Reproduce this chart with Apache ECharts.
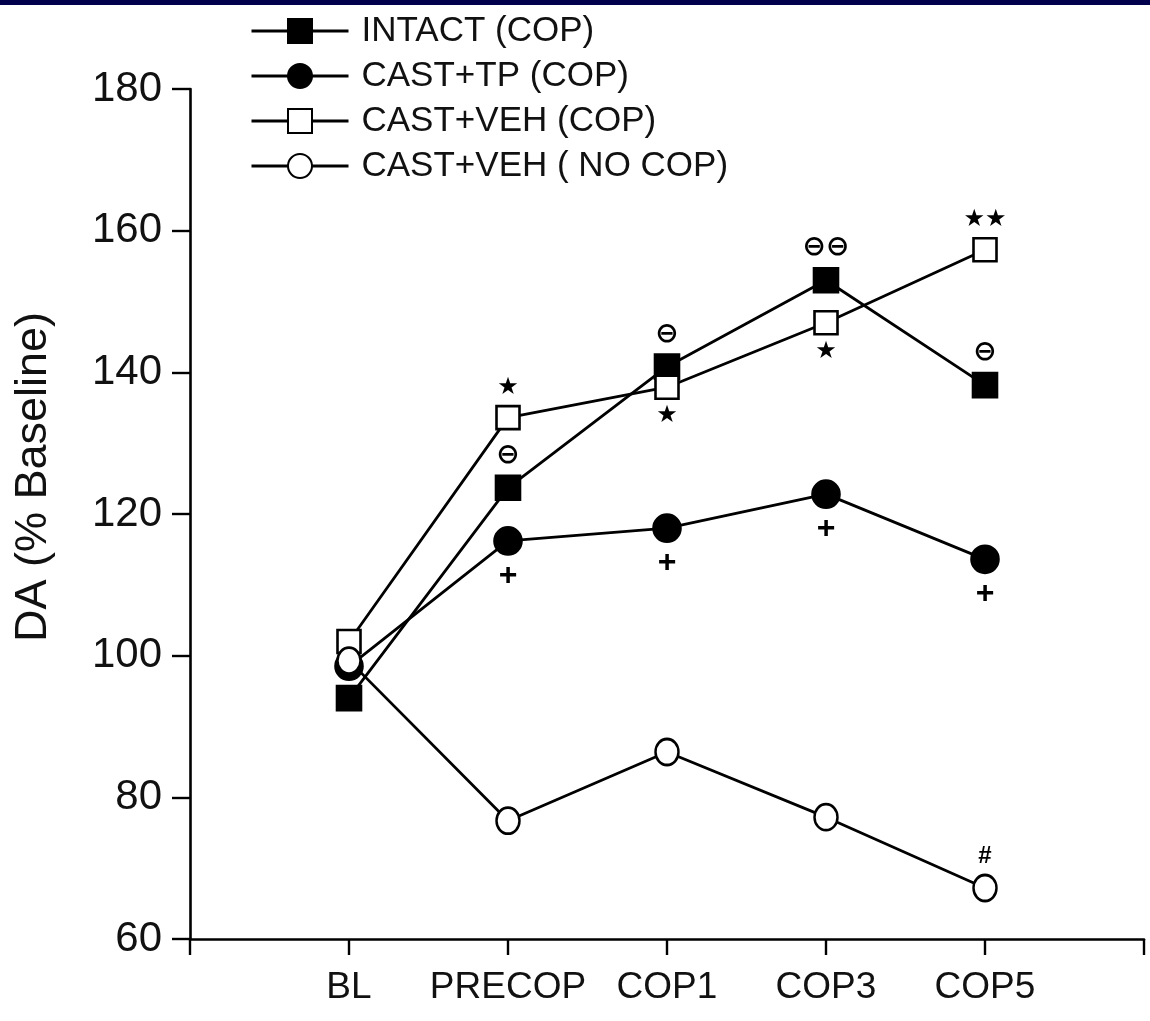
<!DOCTYPE html>
<html>
<head>
<meta charset="utf-8">
<script src="https://cdn.jsdelivr.net/npm/echarts@6/dist/echarts.min.js"></script>
<style>
html,body{margin:0;padding:0;background:#fff;}
#chart{width:1150px;height:1021px;}
</style>
</head>
<body>
<div id="chart"></div>
<script>
// ---- data ----
const categories = ['', 'BL', 'PRECOP', 'COP1', 'COP3', 'COP5', ''];
const timepoints = ['BL', 'PRECOP', 'COP1', 'COP3', 'COP5'];
const yTicks = [60, 80, 100, 120, 140, 160, 180];
const seriesNames = ['INTACT (COP)', 'CAST+TP (COP)', 'CAST+VEH (COP)', 'CAST+VEH ( NO COP)'];
const intactCop = [94, 123.7, 140.8, 153, 138.2];
const castTpCop = [98.5, 116.2, 118, 122.8, 113.6];
const castVehCop = [102, 133.6, 137.9, 147, 157.3];
const castVehNoCop = [99.3, 76.7, 86.4, 77.2, 67.2];
// annotations: [series index, timepoint, mark, side]
const annotations = [
  [2, 'PRECOP', '★', 'above'],
  [0, 'PRECOP', '⊖', 'above'],
  [1, 'PRECOP', '+', 'below'],
  [0, 'COP1', '⊖', 'above'],
  [2, 'COP1', '★', 'below'],
  [1, 'COP1', '+', 'below'],
  [0, 'COP3', '⊖⊖', 'above'],
  [2, 'COP3', '★', 'below'],
  [1, 'COP3', '+', 'below'],
  [2, 'COP5', '★★', 'above'],
  [0, 'COP5', '⊖', 'above'],
  [1, 'COP5', '+', 'below'],
  [3, 'COP5', '#', 'above']
];

// ---- build ----
const FONT = '"Liberation Sans", Arial, Helvetica, sans-serif';
const allValues = [intactCop, castTpCop, castVehCop, castVehNoCop];
const markStyle = {
  '★': {fontSize: 24, fontFamily: '"DejaVu Sans", sans-serif'},
  '★★': {fontSize: 24, fontFamily: '"DejaVu Sans", sans-serif'},
  '⊖': {fontSize: 28, fontFamily: '"DejaVu Sans", sans-serif', fontWeight: 'bold'},
  '⊖⊖': {fontSize: 28, fontFamily: '"DejaVu Sans", sans-serif', fontWeight: 'bold'},
  '+': {fontSize: 32, fontFamily: FONT, fontWeight: 'bold'},
  '#': {fontSize: 24, fontFamily: FONT, fontWeight: 'bold'}
};
function buildData(si) {
  return timepoints.map((t, i) => {
    const item = {value: [t, allValues[si][i]]};
    const a = annotations.find(x => x[0] === si && x[1] === t);
    if (a) {
      const st = markStyle[a[2]];
      item.label = Object.assign({
        show: true,
        formatter: a[2],
        position: a[3] === 'above' ? 'top' : 'bottom',
        distance: a[3] === 'above' ? 5 : 4,
        color: '#000',
        lineHeight: st.fontSize
      }, st);
    }
    return item;
  });
}
const symbolDefs = [
  {symbol: 'rect', size: 24, fill: '#000'},
  {symbol: 'circle', size: 27, fill: '#000'},
  {symbol: 'rect', size: 23, fill: '#fff'},
  {symbol: 'circle', size: [23, 26], fill: '#fff'}
];
const series = seriesNames.map((name, si) => ({
  name: name,
  type: 'line',
  data: buildData(si),
  symbol: symbolDefs[si].symbol,
  symbolSize: symbolDefs[si].size,
  showAllSymbol: true,
  lineStyle: {color: '#000', width: 2.8},
  itemStyle: {color: symbolDefs[si].fill, borderColor: '#000', borderWidth: 2.6},
  z: 2 + si
}));

const chart = echarts.init(document.getElementById('chart'), null, {renderer: 'canvas'});
chart.setOption({
  animation: false,
  backgroundColor: '#fff',
  graphic: [{
    type: 'rect', left: 0, top: 0,
    shape: {width: 1150, height: 5},
    style: {fill: '#00004d'}
  }],
  legend: {
    orient: 'vertical',
    left: 245,
    top: 6,
    itemWidth: 97,
    itemHeight: 30,
    itemGap: 5,
    data: seriesNames,
    lineStyle: {width: 3},
    textStyle: {fontFamily: FONT, fontSize: 35, color: '#111', lineHeight: 40, padding: [0, 0, 0, 8]},
    selectedMode: false
  },
  grid: {left: 190, right: 6, top: 89, bottom: 82},
  xAxis: {
    type: 'category',
    data: categories,
    boundaryGap: false,
    axisLine: {lineStyle: {color: '#000', width: 2.6}},
    axisTick: {length: 16, lineStyle: {color: '#000', width: 2.4}, interval: 0},
    axisLabel: {interval: 0, margin: 30, fontFamily: FONT, fontSize: 37, color: '#111'},
    splitLine: {show: false}
  },
  yAxis: {
    type: 'value',
    min: yTicks[0],
    max: yTicks[yTicks.length - 1],
    interval: 20,
    name: 'DA (% Baseline)',
    nameLocation: 'middle',
    nameRotate: 90,
    nameGap: 134,
    nameTextStyle: {fontFamily: FONT, fontSize: 45, color: '#111', padding: [0, 0, 0, 74]},
    axisLine: {show: true, lineStyle: {color: '#000', width: 2.6}},
    axisTick: {show: true, length: 18, lineStyle: {color: '#000', width: 2.4}},
    axisLabel: {margin: 28, fontFamily: FONT, fontSize: 42, color: '#111'},
    splitLine: {show: false}
  },
  series: series
});
</script>
</body>
</html>
